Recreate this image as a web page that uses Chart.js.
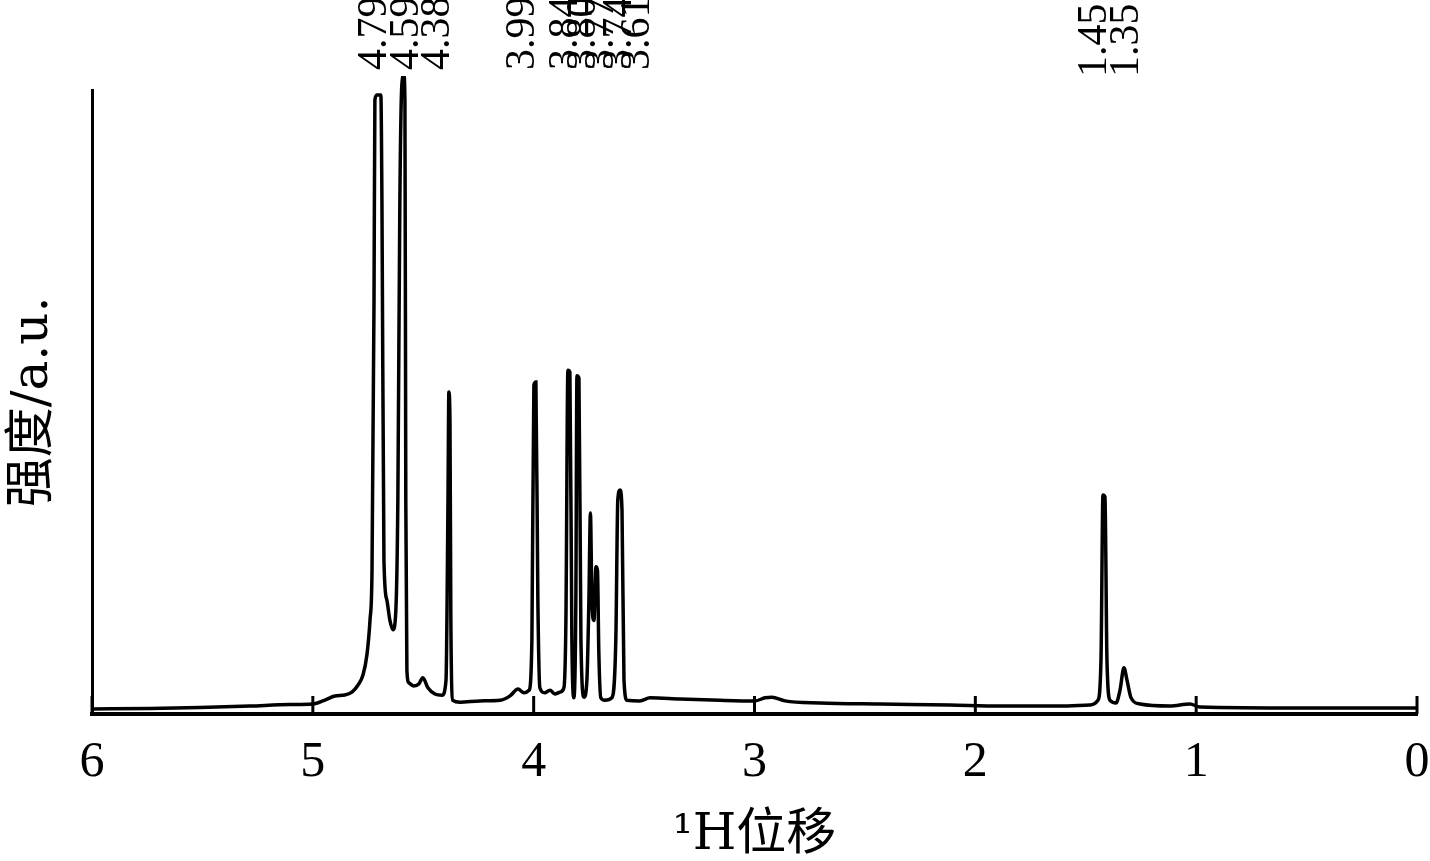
<!DOCTYPE html>
<html>
<head>
<meta charset="utf-8">
<script src="https://cdn.jsdelivr.net/npm/chart.js@4"></script>
<style>
  body { margin: 0; background: #fff; }
  canvas { display: block; }
</style>
</head>
<body>
<canvas id="chart" width="1430" height="861"></canvas>
<script>
// chemical shift (ppm) and intensity
const shift = [
  6.00, 5.737, 5.511, 5.285, 5.104, 5.00, 4.945, 4.90, 4.855, 4.823, 4.796, 4.773, 4.755, 4.741, 4.732, 4.723,
  4.719, 4.710, 4.692, 4.687, 4.678, 4.665, 4.651, 4.637, 4.624, 4.615, 4.606, 4.597, 4.588, 4.583, 4.579, 4.574,
  4.565, 4.543, 4.520, 4.502, 4.479, 4.447, 4.415, 4.397, 4.388, 4.384, 4.379, 4.375, 4.366, 4.334, 4.243, 4.152,
  4.107, 4.071, 4.044, 4.021, 4.008, 3.999, 3.990, 3.981, 3.972, 3.950, 3.926, 3.904, 3.881, 3.863, 3.854, 3.845,
  3.836, 3.827, 3.818, 3.809, 3.804, 3.795, 3.786, 3.772, 3.759, 3.750, 3.743, 3.736, 3.727, 3.718, 3.711, 3.705,
  3.696, 3.678, 3.646, 3.628, 3.619, 3.609, 3.600, 3.591, 3.577, 3.519, 3.473, 3.337, 3.156, 2.998, 2.952, 2.921,
  2.862, 2.703, 2.432, 2.115, 1.888, 1.617, 1.481, 1.445, 1.431, 1.422, 1.413, 1.404, 1.390, 1.363, 1.345, 1.327,
  1.313, 1.295, 1.254, 1.119, 1.028, 0.983, 0.530, 0.00
];
const intensity = [
  0.8, 0.88, 1.04, 1.28, 1.52, 1.6, 2.24, 2.88, 3.04, 3.5, 4.6, 6.25, 9.5, 15.1, 23, 66,
  98.4, 99.2, 99.2, 82, 24.7, 18.3, 15, 13.5, 16.7, 34.3, 82, 100.8, 102.4, 98.4, 34, 7,
  5, 4.5, 4.8, 5.8, 4.2, 3.2, 3.0, 5.4, 34.3, 51.6, 47, 15, 2.2, 1.9, 2.1, 2.2,
  2.9, 4.0, 3.4, 3.8, 11.9, 52.7, 53.2, 18.3, 4.2, 3.4, 3.8, 3.2, 3.5, 4.2, 15, 55.1,
  54.8, 11.9, 2.6, 18, 54.2, 53.8, 11.9, 2.7, 5.4, 18, 32.2, 18, 15, 23.6, 23, 10,
  2.6, 2.2, 2.6, 11.9, 34.3, 35.9, 32.7, 5.4, 2.2, 2.1, 2.6, 2.4, 2.2, 2.1, 2.6, 2.7,
  2.1, 1.76, 1.6, 1.44, 1.28, 1.28, 1.44, 2.2, 8.7, 35.1, 34.8, 8.7, 2.2, 1.76, 3.8, 7.4,
  5.4, 2.6, 1.6, 1.28, 1.6, 1.12, 0.96, 0.96
];

// peak annotations at the top
const peakLabels = ['4.79', '4.59', '4.38', '3.99', '3.84', '3.80', '3.77', '3.74', '3.61', '1.45', '1.35'];
const peakLabelAt = [4.72, 4.575, 4.435, 4.048, 3.853, 3.772, 3.691, 3.609, 3.528, 1.458, 1.313];

const xTicks = [6, 5, 4, 3, 2, 1, 0];

const points = shift.map((s, i) => ({ x: s, y: intensity[i] }));

const serif = '"Liberation Serif", "DejaVu Serif", serif';
const cjk = '"DejaVu Serif", "Noto Sans CJK SC", serif';

const decor = {
  id: 'decor',
  afterDraw(chart) {
    const c = chart.ctx;
    const xs = chart.scales.x;
    const area = chart.chartArea;
    c.save();
    // inward tick marks
    c.strokeStyle = '#000';
    c.lineWidth = 3;
    xTicks.forEach(t => {
      const px = xs.getPixelForValue(t);
      c.beginPath();
      c.moveTo(px, area.bottom);
      c.lineTo(px, area.bottom - 18);
      c.stroke();
    });
    // rotated peak labels
    c.fillStyle = '#000';
    c.font = '42px ' + serif;
    c.textAlign = 'left';
    c.textBaseline = 'middle';
    peakLabels.forEach((txt, i) => {
      const px = xs.getPixelForValue(peakLabelAt[i]);
      const y0 = peakLabelAt[i] < 2 ? 77 : 70;
      c.save();
      c.translate(px, y0);
      c.rotate(-Math.PI / 2);
      c.fillText(txt, 0, 0);
      c.restore();
    });
    c.restore();
  }
};

new Chart(document.getElementById('chart'), {
  type: 'line',
  data: {
    datasets: [{
      data: points,
      borderColor: '#000',
      borderWidth: 3.5,
      pointRadius: 0,
      cubicInterpolationMode: 'monotone',
      clip: { left: 0, top: 14, right: 0, bottom: 0 }
    }]
  },
  options: {
    responsive: false,
    animation: false,
    layout: { padding: { top: 90, right: 13, bottom: 0, left: 0 } },
    plugins: { legend: { display: false }, tooltip: { enabled: false } },
    scales: {
      x: {
        type: 'linear',
        reverse: true,
        min: 0,
        max: 6,
        afterBuildTicks: axis => { axis.ticks = xTicks.map(v => ({ value: v })); },
        afterFit: s => { s.height = 147; s.paddingLeft = 0; s.paddingRight = 0; },
        grid: { display: false, drawTicks: false },
        border: { display: true, color: '#000', width: 4 },
        ticks: {
          color: '#000',
          padding: 19,
          maxRotation: 0,
          font: { family: serif, size: 50 }
        },
        title: {
          display: true,
          text: '¹H位移',
          color: '#000',
          font: { family: cjk, size: 50, lineHeight: 1 },
          padding: { top: 0, bottom: 0 }
        }
      },
      y: {
        min: 0,
        max: 100,
        afterFit: s => { s.width = 92; },
        grid: { display: false, drawTicks: false },
        border: { display: true, color: '#000', width: 3 },
        ticks: { display: false },
        title: {
          display: true,
          text: '强度/a.u.',
          color: '#000',
          font: { family: cjk, size: 50, lineHeight: 1.2 },
          padding: { top: 4, bottom: 28 }
        }
      }
    }
  },
  plugins: [decor]
});
</script>
</body>
</html>
